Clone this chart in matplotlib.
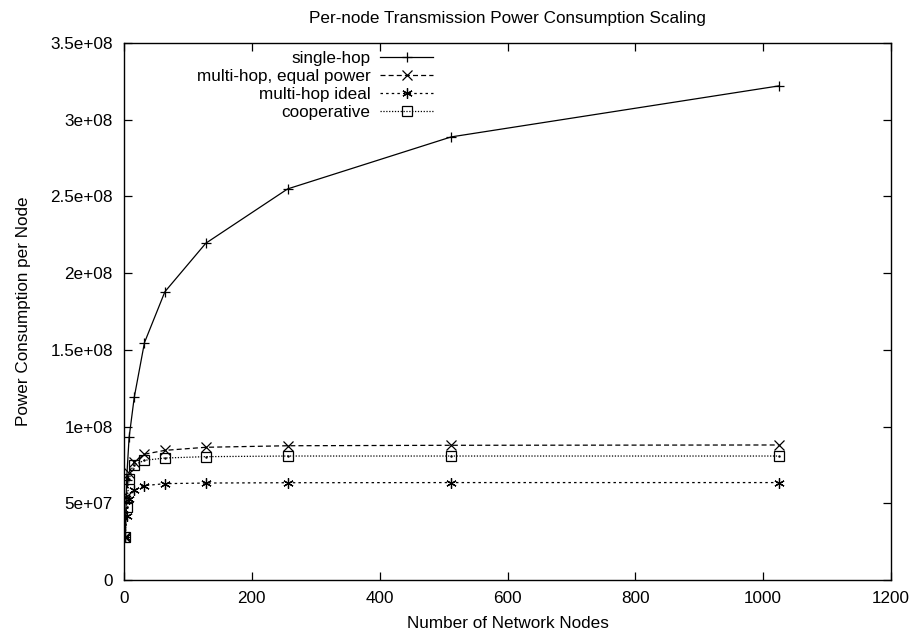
import matplotlib
matplotlib.use("Agg")
import matplotlib.pyplot as plt

plt.rcParams['font.family'] = ['Liberation Sans', 'DejaVu Sans']

nodes = [2, 4, 8, 16, 32, 64, 128, 256, 512, 1024]
single_hop = [2.8e7, 6.5e7, 9.3e7, 1.19e8, 1.547e8, 1.879e8, 2.195e8, 2.549e8, 2.888e8, 3.22e8]
multi_equal = [2.8e7, 5.5e7, 7.0e7, 7.7e7, 8.2e7, 8.45e7, 8.65e7, 8.75e7, 8.78e7, 8.8e7]
multi_ideal = [2.8e7, 4.2e7, 5.3e7, 5.85e7, 6.15e7, 6.28e7, 6.32e7, 6.34e7, 6.35e7, 6.35e7]
cooperative = [2.8e7, 4.75e7, 6.6e7, 7.5e7, 7.8e7, 7.95e7, 8.04e7, 8.08e7, 8.08e7, 8.08e7]

xticks = [0, 200, 400, 600, 800, 1000, 1200]
yticks = [0, 5e7, 1e8, 1.5e8, 2e8, 2.5e8, 3e8, 3.5e8]
ytick_labels = ['0', '5e+07', '1e+08', '1.5e+08', '2e+08', '2.5e+08', '3e+08', '3.5e+08']

FS = 12.3

fig = plt.figure(figsize=(9.13, 6.37), dpi=100)
ax = fig.add_axes([124/913, 1-580/637, (891-124)/913, (580-43)/637])

lw = 0.9
ax.plot(nodes, single_hop, color='black', lw=lw, ls='-', marker='+', ms=7.5, mew=0.9, label='single-hop')
ax.plot(nodes, multi_equal, color='black', lw=lw, ls=(0, (4, 2.5)), marker='x', ms=6.5, mew=0.9, label='multi-hop, equal power')
ax.plot(nodes, multi_ideal, color='black', lw=lw, ls=(0, (2, 2.5)), marker=(6, 2, 0), ms=7.5, mew=0.9, label='multi-hop ideal')
ax.plot(nodes, cooperative, color='black', lw=lw, ls=(0, (1, 1.3)), marker='s', ms=6.5, mew=0.9,
        mfc='none', label='cooperative')
ax.plot(nodes, cooperative, color='black', lw=0, marker='.', ms=1.5)

ax.set_xlim(0, 1200)
ax.set_ylim(0, 3.5e8)
ax.set_xticks(xticks)
ax.set_xticklabels([str(v) for v in xticks])
ax.set_yticks(yticks)
ax.set_yticklabels(ytick_labels)
ax.tick_params(direction='in', length=6, width=0.9, top=True, right=True, labelsize=FS, pad=8)
for s in ax.spines.values():
    s.set_linewidth(1.0)

ax.set_xlabel('Number of Network Nodes', fontsize=FS, labelpad=7)
ax.set_ylabel('Power Consumption per Node', fontsize=FS, labelpad=14)
fig.text(507/913, 1-18/637, 'Per-node Transmission Power Consumption Scaling', ha='center', va='center', fontsize=FS)

leg = ax.legend(loc='upper right', bbox_to_anchor=(433/913, 1-51/637), bbox_transform=fig.transFigure,
                frameon=False, markerfirst=False, fontsize=FS, handlelength=3.1, handletextpad=0.55,
                labelspacing=0.18, borderpad=0, borderaxespad=0)

fig.savefig('out.png', dpi=100)
